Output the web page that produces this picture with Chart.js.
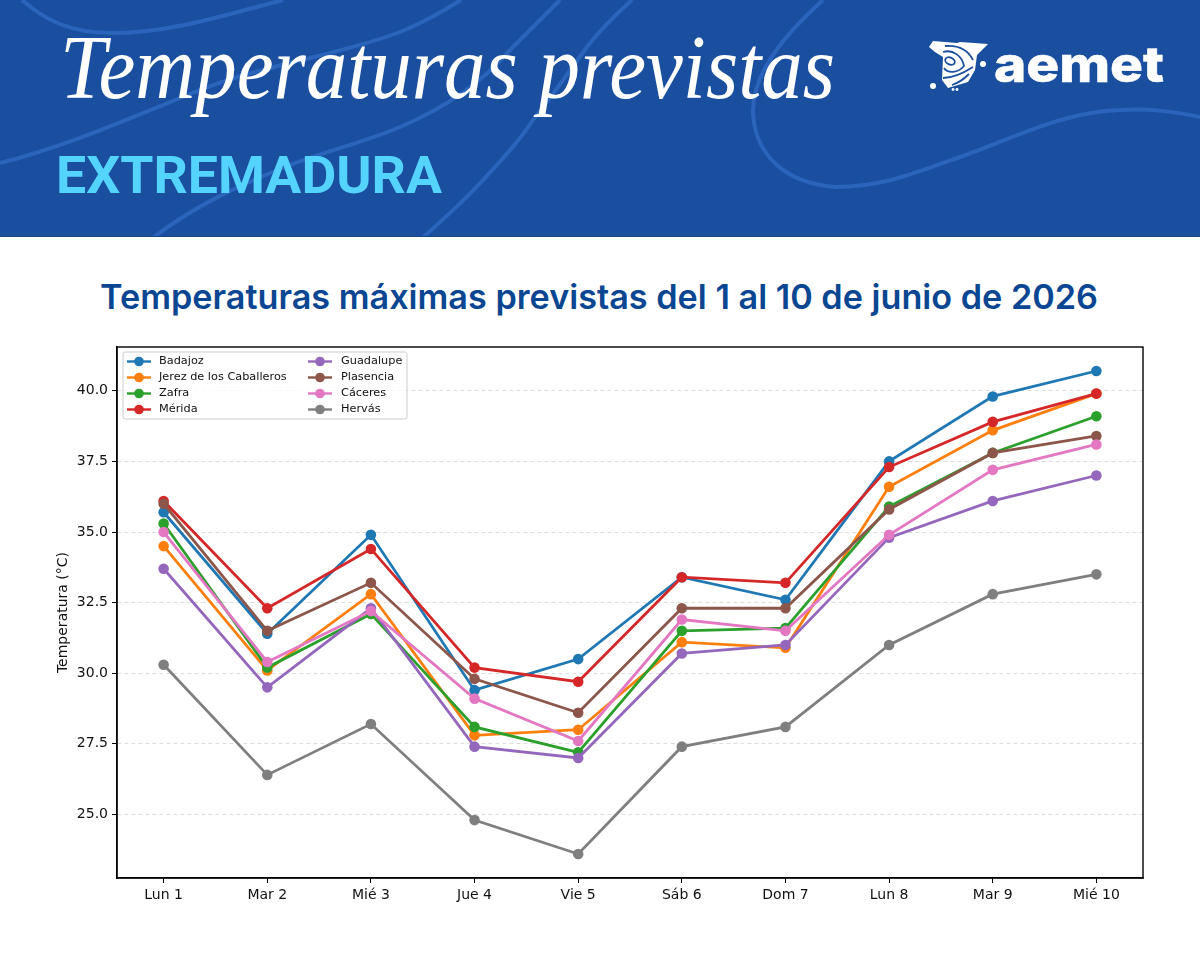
<!DOCTYPE html>
<html lang="es">
<head>
<meta charset="utf-8">
<title>Temperaturas previstas Extremadura</title>
<script src="https://cdn.jsdelivr.net/npm/chart.js@4"></script>
<style>
html, body { margin: 0; padding: 0; background: #fff; }
#page { position: relative; width: 1200px; height: 960px; overflow: hidden; }
#head { position: absolute; left: 0; top: 0; }
#wrap { position: absolute; left: 0; top: 237px; width: 1200px; height: 723px; }
</style>
</head>
<body>
<div id="page">
<svg id="head" width="1200" height="330" viewBox="0 0 1200 330">
	<defs><clipPath id="band"><rect x="0" y="0" width="1200" height="236"/></clipPath></defs>
	<rect x="0" y="0" width="1200" height="237" fill="#1a4f9f"/>
	<rect x="0" y="236" width="1200" height="1" fill="#164588"/>
	<g fill="none" stroke="#2a65bb" stroke-width="4" clip-path="url(#band)">
		<path d="M22,0 C45,20 70,33 112,33 C170,33 225,15 283,0"/>
		<path d="M0,163 C70,145 130,118 200,90 C270,63 340,55 400,32 C425,22 445,10 461,0"/>
		<path d="M150,240 C195,205 240,185 290,165 C330,150 365,142 400,127 C440,110 480,85 510,50 C530,30 545,15 560,0"/>
		<path d="M420,240 C445,218 465,200 483,180 C505,157 520,140 533,120 C553,95 570,70 587,47 C600,30 615,15 632,0"/>
		<path d="M823,0 C790,30 752,70 753,113 C755,155 785,183 835,187 C880,187 910,175 960,157 C1010,140 1060,112 1120,110 C1150,108 1175,112 1200,117"/>
	</g>
	<text x="60" y="98" font-family="Liberation Serif" font-style="italic" font-size="90" fill="#ffffff" textLength="775" lengthAdjust="spacingAndGlyphs">Temperaturas previstas</text>
	<text x="56" y="193" font-family="Roboto" font-weight="700" font-size="51" fill="#55d3ff" textLength="386" lengthAdjust="spacingAndGlyphs">EXTREMADURA</text>
	<text x="100" y="309" font-family="Inter" font-weight="600" font-size="34" fill="#0a4691" textLength="998" lengthAdjust="spacingAndGlyphs">Temperaturas máximas previstas del 1 al 10 de junio de 2026</text>
	<!-- aemet logo -->
	<polygon points="929,47 933,41 957,43 960,42 988,44 977,55 975,70 968,82 948,88 942,80 943,57 935,52" fill="#ffffff"/>
	<g fill="none" stroke="#1a4f9f" stroke-width="1.8">
		<ellipse cx="950" cy="61" rx="5" ry="3.500" transform="rotate(25 950 61)"/>
		<path d="M943,52 C953,49 962,56 964,66 C958,73 948,74 944,68"/>
		<path d="M945,46 C958,45 968,50 973,60"/>
		<path d="M943,78 C952,78 962,74 973,67"/>
		<path d="M952,85 C958,83 963,80 969,74"/>
	</g>
	<circle cx="933" cy="86" r="3" fill="#ffffff"/>
	<circle cx="983" cy="64" r="3" fill="#ffffff"/>
	<circle cx="953" cy="89.500" r="1.400" fill="#ffffff"/>
	<circle cx="957" cy="89.500" r="1.400" fill="#ffffff"/>
	<text x="994" y="82" font-family="Inter" font-weight="800" font-size="49" fill="#ffffff" stroke="#ffffff" stroke-width="0.500" textLength="170" lengthAdjust="spacingAndGlyphs">aemet</text>
</svg>
<div id="wrap"><canvas id="myChart" width="1200" height="723"></canvas></div>
</div>
<script>
//forecast days on the x axis
const days = ['Lun 1', 'Mar 2', 'Mié 3', 'Jue 4', 'Vie 5', 'Sáb 6', 'Dom 7', 'Lun 8', 'Mar 9', 'Mié 10'];

//max temperature per station
const badajoz = [35.7, 31.4, 34.9, 29.4, 30.5, 33.4, 32.6, 37.5, 39.8, 40.7];
const jerez = [34.5, 30.1, 32.8, 27.8, 28.0, 31.1, 30.9, 36.6, 38.6, 39.9];
const zafra = [35.3, 30.2, 32.1, 28.1, 27.2, 31.5, 31.6, 35.9, 37.8, 39.1];
const merida = [36.1, 32.3, 34.4, 30.2, 29.7, 33.4, 33.2, 37.3, 38.9, 39.9];
const guadalupe = [33.7, 29.5, 32.3, 27.4, 27.0, 30.7, 31.0, 34.8, 36.1, 37.0];
const plasencia = [36.0, 31.5, 33.2, 29.8, 28.6, 32.3, 32.3, 35.8, 37.8, 38.4];
const caceres = [35.0, 30.4, 32.2, 29.1, 27.6, 31.9, 31.5, 34.9, 37.2, 38.1];
const hervas = [30.3, 26.4, 28.2, 24.8, 23.6, 27.4, 28.1, 31.0, 32.8, 33.5];

const stations = ['Badajoz', 'Jerez de los Caballeros', 'Zafra', 'Mérida', 'Guadalupe', 'Plasencia', 'Cáceres', 'Hervás'];
const seriesValues = [badajoz, jerez, zafra, merida, guadalupe, plasencia, caceres, hervas];
const seriesColors = ['#1f77b4', '#ff7f0e', '#2ca02c', '#d62728', '#9467bd', '#8c564b', '#e377c2', '#7f7f7f'];

const FONT = 'DejaVu Sans';

//later series go on top, like the original
var buildDatasets = function() {
	return stations.map(function(name, i) {
		return {
			label: name,
			data: seriesValues[i].map(function(v, j) { return {x: j, y: v}; }),
			borderColor: seriesColors[i],
			backgroundColor: seriesColors[i],
			borderWidth: 2.8,
			pointRadius: 5.3,
			pointBorderWidth: 0,
			tension: 0,
			order: stations.length - i
		};
	});
}

//black frame round the plot and the two column legend box
const frameAndLegend = {
	id: 'frameAndLegend',
	afterDatasetsDraw: function(chart) {
		const c = chart.ctx;
		const a = chart.chartArea;
		c.save();
		c.strokeStyle = '#000';
		c.lineWidth = 1.4;
		c.strokeRect(a.left, a.top, a.right - a.left, a.bottom - a.top);

		const boxX = a.left + 6, boxY = a.top + 5, boxW = 284, boxH = 67;
		c.beginPath();
		c.roundRect(boxX, boxY, boxW, boxH, 2);
		c.fillStyle = 'rgba(255,255,255,0.8)';
		c.fill();
		c.strokeStyle = '#cccccc';
		c.lineWidth = 1;
		c.stroke();

		c.font = '11.3px "' + FONT + '"';
		c.textBaseline = 'middle';
		chart.data.datasets.forEach(function(ds, i) {
			const col = i < 4 ? 0 : 1;
			const row = i % 4;
			const lineX = boxX + 4 + col * 181;
			const y = boxY + 9.5 + row * 16;
			c.strokeStyle = ds.borderColor;
			c.lineWidth = 2.4;
			c.beginPath();
			c.moveTo(lineX, y);
			c.lineTo(lineX + 24, y);
			c.stroke();
			c.fillStyle = ds.borderColor;
			c.beginPath();
			c.arc(lineX + 12, y, 4.8, 0, Math.PI * 2);
			c.fill();
			c.fillStyle = '#111';
			c.fillText(ds.label, lineX + 32 + col, y);
		});
		c.restore();
	}
};

var createChart = function(targElement) {
	return new Chart(targElement, {
		type: 'line',
		data: { datasets: buildDatasets() },
		plugins: [frameAndLegend],
		options: {
			responsive: false,
			animation: false,
			layout: { padding: { left: 55, right: 57, top: 110, bottom: 0 } },
			plugins: { legend: { display: false }, tooltip: { enabled: false } },
			scales: {
				x: {
					type: 'linear',
					min: -0.45,
					max: 9.45,
					afterFit: function(scale) { scale.height = 82; },
					grid: { drawOnChartArea: false, drawTicks: true, tickLength: 5, tickColor: '#000' },
					border: { display: true, color: '#000', width: 1.4 },
					ticks: {
						stepSize: 1,
						includeBounds: false,
						autoSkip: false,
						maxRotation: 0,
						padding: 4,
						color: '#111',
						font: { family: FONT, size: 14 },
						callback: function(value) { return days[value]; }
					}
				},
				y: {
					min: 22.75,
					max: 41.55,
					afterFit: function(scale) { scale.width = 62; },
					title: {
						display: true,
						text: 'Temperatura (°C)',
						color: '#111',
						padding: 0,
						font: { family: FONT, size: 14 }
					},
					grid: { color: '#dddddd', borderDash: [4, 3], drawTicks: true, tickLength: 5, tickColor: '#000', tickBorderDash: [] },
					border: { display: true, color: '#000', width: 1.4, dash: [4, 3] },
					ticks: {
						stepSize: 2.5,
						includeBounds: false,
						padding: 4,
						color: '#111',
						font: { family: FONT, size: 14 },
						callback: function(value) { return value.toFixed(1); }
					}
				}
			}
		}
	});
}

createChart(document.getElementById('myChart'));
</script>
</body>
</html>
